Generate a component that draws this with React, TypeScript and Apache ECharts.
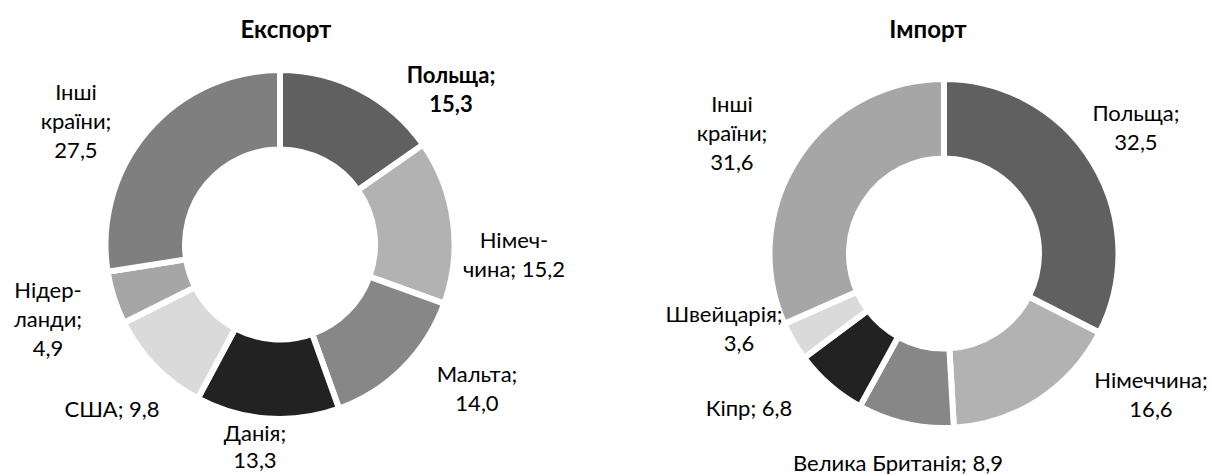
import React, { useEffect, useRef } from "react";
import * as echarts from "echarts";

// ---- Data ----
const exportNames = ["Польща", "Німеччина", "Мальта", "Данія", "США", "Нідерланди", "Інші країни"];
const exportValues = [15.3, 15.2, 14.0, 13.3, 9.8, 4.9, 27.5];
const exportLabelText = [
  "Польща;\n{v}",
  "Німеч-\nчина; {v}",
  "Мальта;\n{v}",
  "Данія;\n{v}",
  "США; {v}",
  "Нідер-\nланди;\n{v}",
  "Інші\nкраїни;\n{v}",
];

const importNames = ["Польща", "Німеччина", "Велика Британія", "Кіпр", "Швейцарія", "Інші країни"];
const importValues = [32.5, 16.6, 8.9, 6.8, 3.6, 31.6];
const importLabelText = [
  "Польща;\n{v}",
  "Німеччина;\n{v}",
  "Велика Британія; {v}",
  "Кіпр; {v}",
  "Швейцарія;\n{s|{v}}",
  "Інші\nкраїни;\n{v}",
];

const titles = ["Експорт", "Імпорт"];

// ---- Styles / layout ----
const exportColors = ["#606060", "#b2b2b2", "#878787", "#222222", "#dadada", "#a6a6a6", "#7f7f7f"];
const importColors = ["#606060", "#b2b2b2", "#878787", "#222222", "#dadada", "#a6a6a6"];
const exportLabelPos = [
  [451, 89],
  [514, 254],
  [477, 388],
  [255, 446],
  [112, 408],
  [48, 318],
  [76, 120],
];
const importLabelPos = [
  [1136, 127],
  [1151, 394],
  [898, 462],
  [749, 407],
  [724, 328],
  [732, 132],
];
const FONT = "Lato";
const FS = 22;
const LH = 29;
const TITLE_FS = 24;

const fmt = (v: number) => v.toFixed(1).replace(".", ",");

export default function App() {
  const ref = useRef<HTMLDivElement>(null);
  useEffect(() => {
    if (!ref.current) return;
    const chart = echarts.init(ref.current, null, { renderer: "svg" });
    const makeSeries = (
      names: string[],
      values: number[],
      texts: string[],
      colors: string[],
      pos: number[][],
      center: number[],
      boldFirst: boolean
    ) => ({
      type: "pie",
      center,
      radius: [95, 174.5],
      startAngle: 90,
      clockwise: true,
      avoidLabelOverlap: false,
      animation: false,
      itemStyle: { borderColor: "#ffffff", borderWidth: 6 },
      emphasis: { disabled: true },
      labelLine: { show: false },
      label: {
        show: true,
        position: "outside",
        fontFamily: FONT,
        fontSize: FS,
        lineHeight: LH,
        color: "#000000",
        formatter: (p: any) => texts[p.dataIndex].replace("{v}", fmt(p.value)),
        rich: {
          s: {
            fontFamily: FONT,
            fontSize: FS,
            lineHeight: LH,
            color: "#000000",
            padding: [0, 0, 0, 30],
          },
        },
      },
      labelLayout: (p: any) => ({
        x: pos[p.dataIndex][0],
        y: pos[p.dataIndex][1],
        align: "center",
        verticalAlign: "middle",
      }),
      data: names.map((n, i) => {
        const item: any = {
          name: n,
          value: values[i],
          itemStyle: { color: colors[i] },
        };
        if (boldFirst && i === 0) item.label = { fontWeight: "bold" };
        if (boldFirst && i === 3) item.label = { lineHeight: 27 };
        return item;
      }),
    });
    chart.setOption({
      animation: false,
      backgroundColor: "#ffffff",
      graphic: [
        {
          type: "text",
          x: 286,
          y: 28,
          style: {
            text: titles[0],
            font: `bold ${TITLE_FS}px ${FONT}`,
            fill: "#000",
            textAlign: "center",
            textVerticalAlign: "middle",
          },
        },
        {
          type: "text",
          x: 928,
          y: 28,
          style: {
            text: titles[1],
            font: `bold ${TITLE_FS}px ${FONT}`,
            fill: "#000",
            textAlign: "center",
            textVerticalAlign: "middle",
          },
        },
      ],
      series: [
        makeSeries(exportNames, exportValues, exportLabelText, exportColors, exportLabelPos, [280, 244.5], true),
        makeSeries(importNames, importValues, importLabelText, importColors, importLabelPos, [944, 253.5], false),
      ],
    });
    return () => chart.dispose();
  }, []);
  return (
    <div
      ref={ref}
      style={{ position: "fixed", left: 0, top: 0, width: 1210, height: 474, background: "#fff" }}
    />
  );
}
